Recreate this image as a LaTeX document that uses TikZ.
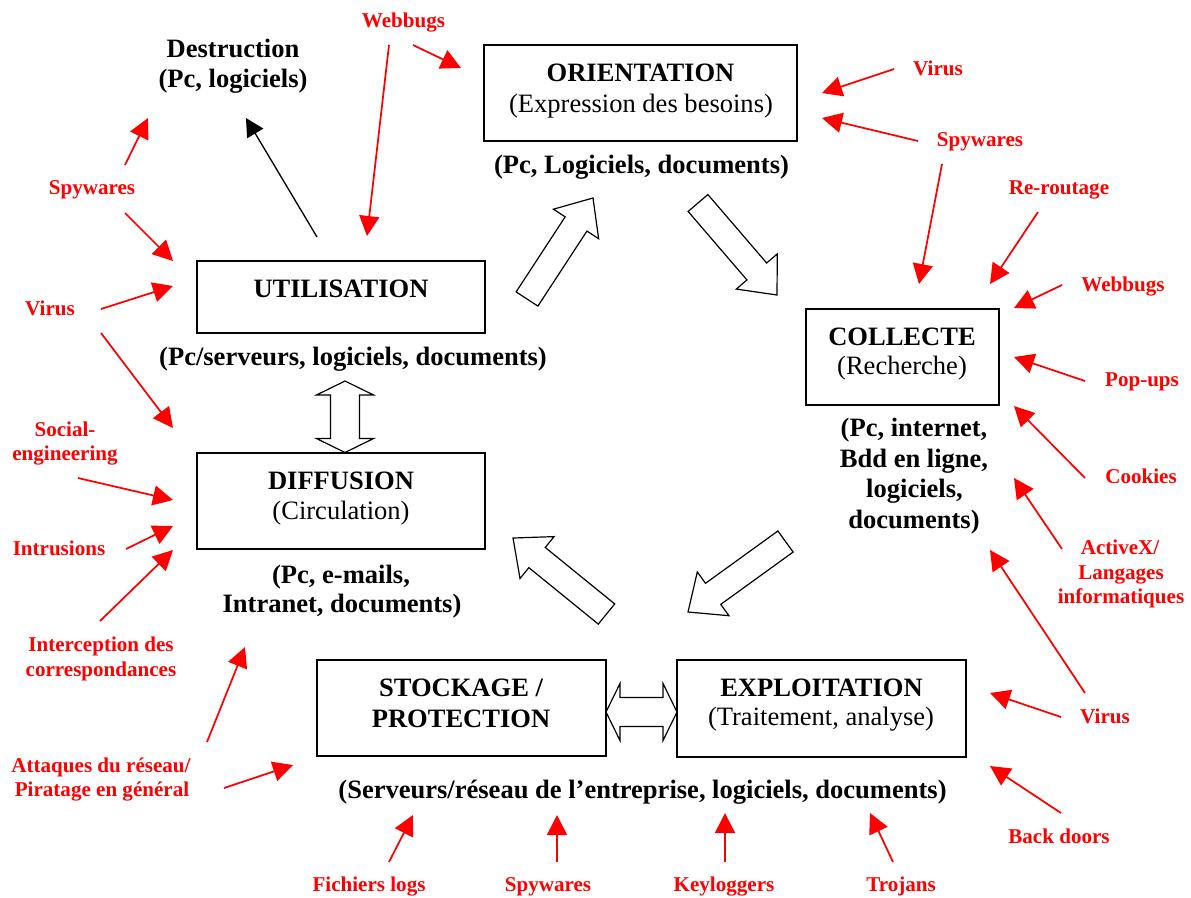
\documentclass[tikz,border=0pt]{standalone}
\usepackage{fontspec}
\setmainfont{Liberation Serif}
\usetikzlibrary{arrows.meta,calc}
\definecolor{rd}{RGB}{255,0,0}
\tikzset{
  box/.style={draw, line width=1.2pt, rectangle, inner sep=0pt},
  bt/.style={font=\fontsize{19.9}{23}\selectfont\bfseries, inner sep=0pt, anchor=base},
  rt/.style={font=\fontsize{19.9}{23}\selectfont, inner sep=0pt, anchor=base},
  lab/.style={font=\fontsize{15.8}{18.5}\selectfont\bfseries, text=rd, inner sep=0pt, anchor=base},
  attack/.style={draw=rd, line width=1.3pt, -{Triangle[length=15pt,width=15pt]}},
  cause/.style={draw=black, line width=1pt, -{Triangle[length=13.5pt,width=14pt]}},
  flow/.style={draw=black, line width=0.9pt, fill=white, line join=miter}
}
\newcommand{\blockarrow}[2]{%
  \path ($(#2)!23.25pt!(#1)$) coordinate (bab);
  \draw[flow] ($(#1)!9.75pt!90:(#2)$) -- ($(bab)!9.75pt!90:(#2)$) -- ($(bab)!20.25pt!90:(#2)$) -- (#2)
    -- ($(bab)!20.25pt!-90:(#2)$) -- ($(bab)!9.75pt!-90:(#2)$) -- ($(#1)!9.75pt!-90:(#2)$) -- cycle;}
\newcommand{\dblarrow}[2]{%
  \path ($(#1)!10.5pt!(#2)$) coordinate (dpa) ($(#2)!10.5pt!(#1)$) coordinate (dpb);
  \draw[flow] (#1) -- ($(dpa)!21.4pt!90:(#2)$) -- ($(dpa)!10.9pt!90:(#2)$) -- ($(dpb)!10.9pt!-90:(#1)$)
    -- ($(dpb)!21.4pt!-90:(#1)$) -- (#2) -- ($(dpb)!21.4pt!90:(#1)$) -- ($(dpb)!10.9pt!90:(#1)$)
    -- ($(dpa)!10.9pt!-90:(#2)$) -- ($(dpa)!21.4pt!-90:(#2)$) -- cycle;}
\begin{document}
\begin{tikzpicture}[x=0.75pt,y=-0.75pt]
\useasboundingbox (0,0) rectangle (1191,897);
\fill[white] (0,0) rectangle (1191,897);

% boxes
\node[box, minimum width=234.75pt, minimum height=72pt] (orient) at (640.5,93) {};
\node[box, minimum width=216pt, minimum height=54pt] (util) at (341,297) {};
\node[box, minimum width=216pt, minimum height=72pt] (diff) at (341,501) {};
\node[box, minimum width=144.75pt, minimum height=72pt] (coll) at (902.5,357) {};
\node[box, minimum width=216.75pt, minimum height=72pt] (stock) at (461.5,708) {};
\node[box, minimum width=216.75pt, minimum height=72.75pt] (expl) at (821.5,708.5) {};

% box texts
\node[bt] (torient) at (640.5,81) {ORIENTATION};
\node[rt] (torient2) at (641,112) {(Expression des besoins)};
\node[bt] (rorient) at (641.5,173) {(Pc, Logiciels, documents)};
\node[bt] (tutil) at (341,297) {UTILISATION};
\node[bt] (rutil) at (353,365) {(Pc/serveurs, logiciels, documents)};
\node[bt] (tdiff) at (341,489) {DIFFUSION};
\node[rt] (tdiff2) at (341,519) {(Circulation)};
\node[bt] (rdiff1) at (341,583) {(Pc, e-mails,};
\node[bt] (rdiff2) at (342,612) {Intranet, documents)};
\node[bt] (tcoll) at (902,345) {COLLECTE};
\node[rt] (tcoll2) at (902,374) {(Recherche)};
\node[bt] (rcoll1) at (914,436) {(Pc, internet,};
\node[bt] (rcoll2) at (914,467) {Bdd en ligne,};
\node[bt] (rcoll3) at (914.5,497) {logiciels,};
\node[bt] (rcoll4) at (914,528) {documents)};
\node[bt] (tstock1) at (461,696) {STOCKAGE /};
\node[bt] (tstock2) at (461,727) {PROTECTION};
\node[bt] (texpl) at (821.5,696) {EXPLOITATION};
\node[rt] (texpl2) at (821,725) {(Traitement, analyse)};
\node[bt] (rstock) at (642.5,798) {(Serveurs/réseau de l’entreprise, logiciels, documents)};
\node[bt] (destr1) at (233,57) {Destruction};
\node[bt] (destr2) at (233,87) {(Pc, logiciels)};

% red labels
\node[lab] (lweb1) at (403.5,27) {Webbugs};
\node[lab] (lspy1) at (92,194) {Spywares};
\node[lab] (lvir1) at (50,315) {Virus};
\node[lab] (lsoc1) at (65,436) {Social-};
\node[lab] (lsoc2) at (65,460) {engineering};
\node[lab] (lintr) at (59,555) {Intrusions};
\node[lab] (linter1) at (101,651) {Interception des};
\node[lab] (linter2) at (101,676) {correspondances};
\node[lab] (latt1) at (101,772) {Attaques du réseau/};
\node[lab] (latt2) at (102,796) {Piratage en général};
\node[lab] (lfich) at (369,891) {Fichiers logs};
\node[lab] (lspy3) at (548,891) {Spywares};
\node[lab] (lkey) at (724,891) {Keyloggers};
\node[lab] (ltroj) at (901,891) {Trojans};
\node[lab] (lback) at (1059,843) {Back doors};
\node[lab] (lvir3) at (1105,723) {Virus};
\node[lab] (lact1) at (1120,554) {ActiveX/};
\node[lab] (lact2) at (1121,579) {Langages};
\node[lab] (lact3) at (1121,603) {informatiques};
\node[lab] (lcook) at (1141,483) {Cookies};
\node[lab] (lpop) at (1142,386) {Pop-ups};
\node[lab] (lweb2) at (1123,291) {Webbugs};
\node[lab] (lrer) at (1059,194) {Re-routage};
\node[lab] (lspy2) at (980,146) {Spywares};
\node[lab] (lvir2) at (938,75) {Virus};

% block arrows (cycle)
\coordinate (a1s) at (527,299); \coordinate (a1e) at (593,198);
\coordinate (a2s) at (698,203); \coordinate (a2e) at (777,295);
\coordinate (a3s) at (785.5,541.5); \coordinate (a3e) at (688,612);
\coordinate (a4s) at (606.5,614); \coordinate (a4e) at (513,538);
\blockarrow{a1s}{a1e}
\blockarrow{a2s}{a2e}
\blockarrow{a3s}{a3e}
\blockarrow{a4s}{a4e}
\coordinate (vs) at (345,381); \coordinate (ve) at (345,452.5);
\coordinate (hs) at (606,712); \coordinate (he) at (677,712);
\dblarrow{vs}{ve}
\dblarrow{hs}{he}

% black arrow
\coordinate (bs) at (317,237); \coordinate (be) at (246,118);
\draw[cause] (bs) -- (be);

% red attack arrows
\foreach \sx/\sy/\ex/\ey in {
  413/45/461/68, 389/45/367/236, 125/165/148/118, 125/213/173/261,
  101/309/173/286, 101/333/173/428, 78/478/173/500, 126/549/173/526,
  100/621/173/550, 207/742/245/647, 224/788/293/765, 389/862/413/815,
  557/862/557/815, 725/862/725/813, 893/862/870/813, 1061/813/990/766,
  1061/717/990/693, 1085/693/990/550, 1062/549/1014/478, 1085/478/1014/406,
  1085/381/1014/357, 1062/285/1014/308, 1038/212/990/284, 942/164/919/284,
  918/141/822/118, 894/69/822/93}
{
  \coordinate (rs) at (\sx,\sy); \coordinate (re) at (\ex,\ey);
  \draw[attack] (rs) -- (re);
}
\end{tikzpicture}
\end{document}
